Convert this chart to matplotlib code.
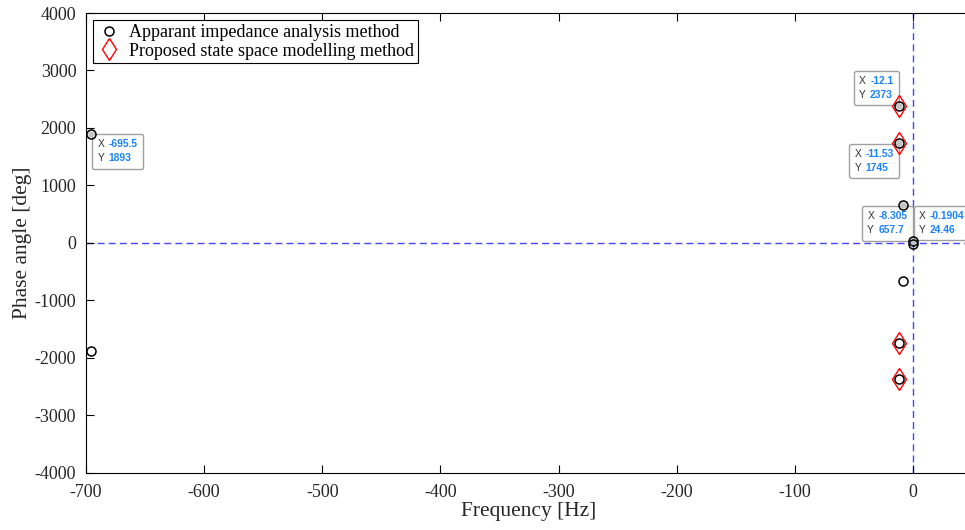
import matplotlib.pyplot as plt
from matplotlib.offsetbox import AnnotationBbox, TextArea, HPacker, VPacker

# apparant impedance method (black circles)
freq_ai = [-695.5, -695.5, -12.1, -12.1, -11.53, -11.53, -8.305, -8.305, -0.1904, -0.1904]
phase_ai = [1893, -1893, 2373, -2373, 1745, -1745, 657.7, -657.7, 24.46, -24.46]

# state space method (red diamonds)
freq_ss = [-12.1, -12.1, -11.53, -11.53]
phase_ss = [2373, -2373, 1745, -1745]

# data tips
tip_x = [-695.5, -12.1, -11.53, -8.305, -0.1904]
tip_y = [1893, 2373, 1745, 657.7, 24.46]
tip_xtxt = ['-695.5', '-12.1', '-11.53', '-8.305', '-0.1904']
tip_ytxt = ['1893', '2373', '1745', '657.7', '24.46']

plt.rcParams['font.family'] = 'Liberation Serif'
plt.rcParams['axes.unicode_minus'] = False

fig = plt.figure(figsize=(9.65, 5.3), dpi=100)
ax = fig.add_axes([86 / 965, 57.5 / 530, 886 / 965, 459.5 / 530])

ax.axhline(0, color='#4646ff', ls='--', lw=1, dashes=(5, 3), zorder=1)
ax.axvline(0, color='#4646ff', ls='--', lw=1, dashes=(5, 3), zorder=1)

h_ss, = ax.plot(freq_ss, phase_ss, 'd', mfc='none', mec='red', ms=11.5, mew=1,
                label='Proposed state space modelling method', zorder=3)
# grey fill of the data tip points, under the black rings
ax.plot(tip_x, tip_y, 'o', mfc='#c4c4c4', mec='none', ms=4.5, zorder=3.5)
h_ai, = ax.plot(freq_ai, phase_ai, 'o', mfc='none', mec='black', ms=6.5, mew=1.1,
                label='Apparant impedance analysis method', zorder=4)

# box corner used for each tip and where that corner sits (pixels from the point)
tip_align = [(0, 1), (1, 0), (1, 1), (1, 1), (0, 0)]
tip_corner = [(1, 0), (0, 1), (0, -1), (9.5, -1), (1, 1)]
pad_px = 0.38 * 10 * 100 / 72

for x, y, xs, ys, al, cr in zip(tip_x, tip_y, tip_xtxt, tip_ytxt, tip_align, tip_corner):
    rows = []
    for lab, val in [('X', xs), ('Y', ys)]:
        t1 = TextArea(lab, textprops=dict(color='#333333', fontsize=7.4, family='Liberation Sans'))
        t2 = TextArea(val, textprops=dict(color='#1a82ff', fontsize=7.4, family='Liberation Sans',
                                          fontweight='bold'))
        rows.append(HPacker(children=[t1, t2], pad=0, sep=3))
    box = VPacker(children=rows, pad=0, sep=3)
    sx = 1 if al[0] == 0 else -1
    sy = 1 if al[1] == 0 else -1
    off = (cr[0] + sx * pad_px, cr[1] + sy * pad_px)
    ab = AnnotationBbox(box, (x, y), xybox=off, boxcoords='offset pixels',
                        box_alignment=al, frameon=True, pad=0.38, annotation_clip=False,
                        bboxprops=dict(boxstyle='round,pad=0.38,rounding_size=0.15',
                                       fc='white', ec='#a0a0a0', lw=1))
    ab.set_zorder(2.5)
    ax.add_artist(ab)

ax.set_xlim(-700, 50)
ax.set_ylim(-4000, 4000)
ax.set_xticks(range(-700, 1, 100))
ax.set_yticks(range(-4000, 4001, 1000))
ax.tick_params(direction='in', length=6, top=True, right=False, labelsize=13,
               labelcolor='#262626')
ax.tick_params(axis='x', pad=8)
ax.tick_params(axis='y', pad=7)
for s in ax.spines.values():
    s.set_linewidth(0.8)

ax.set_xlabel('Frequency [Hz]', fontsize=15.5, labelpad=1, color='#262626')
ax.set_ylabel('Phase angle [deg]', fontsize=15.5, labelpad=2, color='#262626')

leg = ax.legend(handles=[h_ai, h_ss], loc='upper left', fontsize=13, fancybox=False,
                edgecolor='black', framealpha=1, handletextpad=0.5, borderpad=0.2,
                labelspacing=0.1, handlelength=1.3, borderaxespad=0.4)
leg.get_frame().set_linewidth(0.8)

fig.savefig('out.png', dpi=100)
